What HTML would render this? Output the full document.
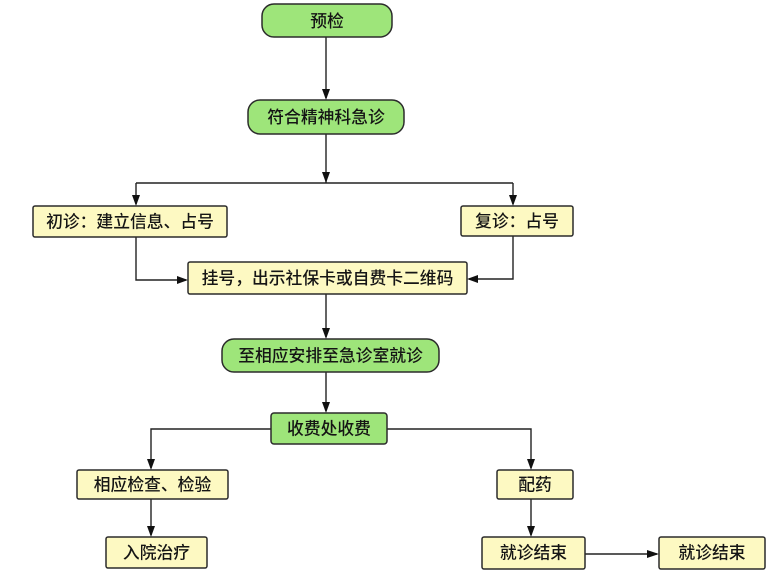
<!DOCTYPE html>
<html><head><meta charset="utf-8">
<style>
html,body{margin:0;padding:0;background:#fff;}
svg{display:block;}
text{font-family:"Liberation Sans","Noto Sans CJK SC",sans-serif;font-size:16.8px;font-weight:500;fill:#151515;text-anchor:middle;dominant-baseline:central;}
.g{fill:#9ee57a;stroke:#2b2b2b;stroke-width:1.5;}
.y{fill:#fdf9c2;stroke:#2b2b2b;stroke-width:1.5;}
.l{fill:none;stroke:#222;stroke-width:1.4;}
.a{fill:#111;}
</style></head>
<body>
<svg width="776" height="579" viewBox="0 0 776 579" xmlns="http://www.w3.org/2000/svg">
<!-- connectors -->
<path class="l" d="M326 37 V98"/>
<polygon class="a" points="322,89 330,89 326,100"/>
<path class="l" d="M326 134 V183 M136 183 H513 M136 183 V204 M513 183 V204"/>
<polygon class="a" points="322,172 330,172 326,183"/>
<polygon class="a" points="132,195 140,195 136,206"/>
<polygon class="a" points="509,195 517,195 513,206"/>
<path class="l" d="M136 237 V280 H186"/>
<polygon class="a" points="177,276 177,284 188,280"/>
<path class="l" d="M513 236 V279 H469"/>
<polygon class="a" points="478,275 478,283 467,279"/>
<path class="l" d="M326 294 V337"/>
<polygon class="a" points="322,328 330,328 326,339"/>
<path class="l" d="M326 372 V411"/>
<polygon class="a" points="322,402 330,402 326,413"/>
<path class="l" d="M271 429 H151 V468"/>
<polygon class="a" points="147,459 155,459 151,470"/>
<path class="l" d="M387 429 H531 V468"/>
<polygon class="a" points="527,459 535,459 531,470"/>
<path class="l" d="M151 499 V535"/>
<polygon class="a" points="147,526 155,526 151,537"/>
<path class="l" d="M531 499 V535"/>
<polygon class="a" points="527,526 535,526 531,537"/>
<path class="l" d="M585 554 H657"/>
<polygon class="a" points="647,550 647,558 659,554"/>

<!-- nodes -->
<rect class="g" x="262" y="4" width="130" height="33" rx="12"/>
<text x="327" y="21.5">预检</text>
<rect class="g" x="248" y="100" width="156" height="34" rx="12"/>
<text x="326" y="117.5">符合精神科急诊</text>
<rect class="y" x="33" y="206" width="194" height="31" rx="2"/>
<text x="130" y="222">初诊：建立信息、占号</text>
<rect class="y" x="461" y="206" width="112" height="30" rx="2"/>
<text x="517" y="221.5">复诊：占号</text>
<rect class="y" x="188" y="262" width="279" height="32" rx="2"/>
<text x="327.5" y="278.5">挂号，出示社保卡或自费卡二维码</text>
<rect class="g" x="222" y="339" width="217" height="33" rx="12"/>
<text x="330.5" y="356">至相应安排至急诊室就诊</text>
<rect class="g" x="271" y="413" width="116" height="31" rx="3"/>
<text x="329" y="429">收费处收费</text>
<rect class="y" x="77" y="470" width="151" height="29" rx="2"/>
<text x="152.5" y="485">相应检查、检验</text>
<rect class="y" x="106" y="537" width="101" height="31" rx="2"/>
<text x="156.5" y="553">入院治疗</text>
<rect class="y" x="497" y="470" width="76" height="29" rx="2"/>
<text x="535" y="485">配药</text>
<rect class="y" x="482" y="537" width="103" height="32" rx="2"/>
<text x="533.5" y="553">就诊结束</text>
<rect class="y" x="659" y="537" width="106" height="32" rx="2"/>
<text x="712" y="553">就诊结束</text>
</svg>
</body></html>
